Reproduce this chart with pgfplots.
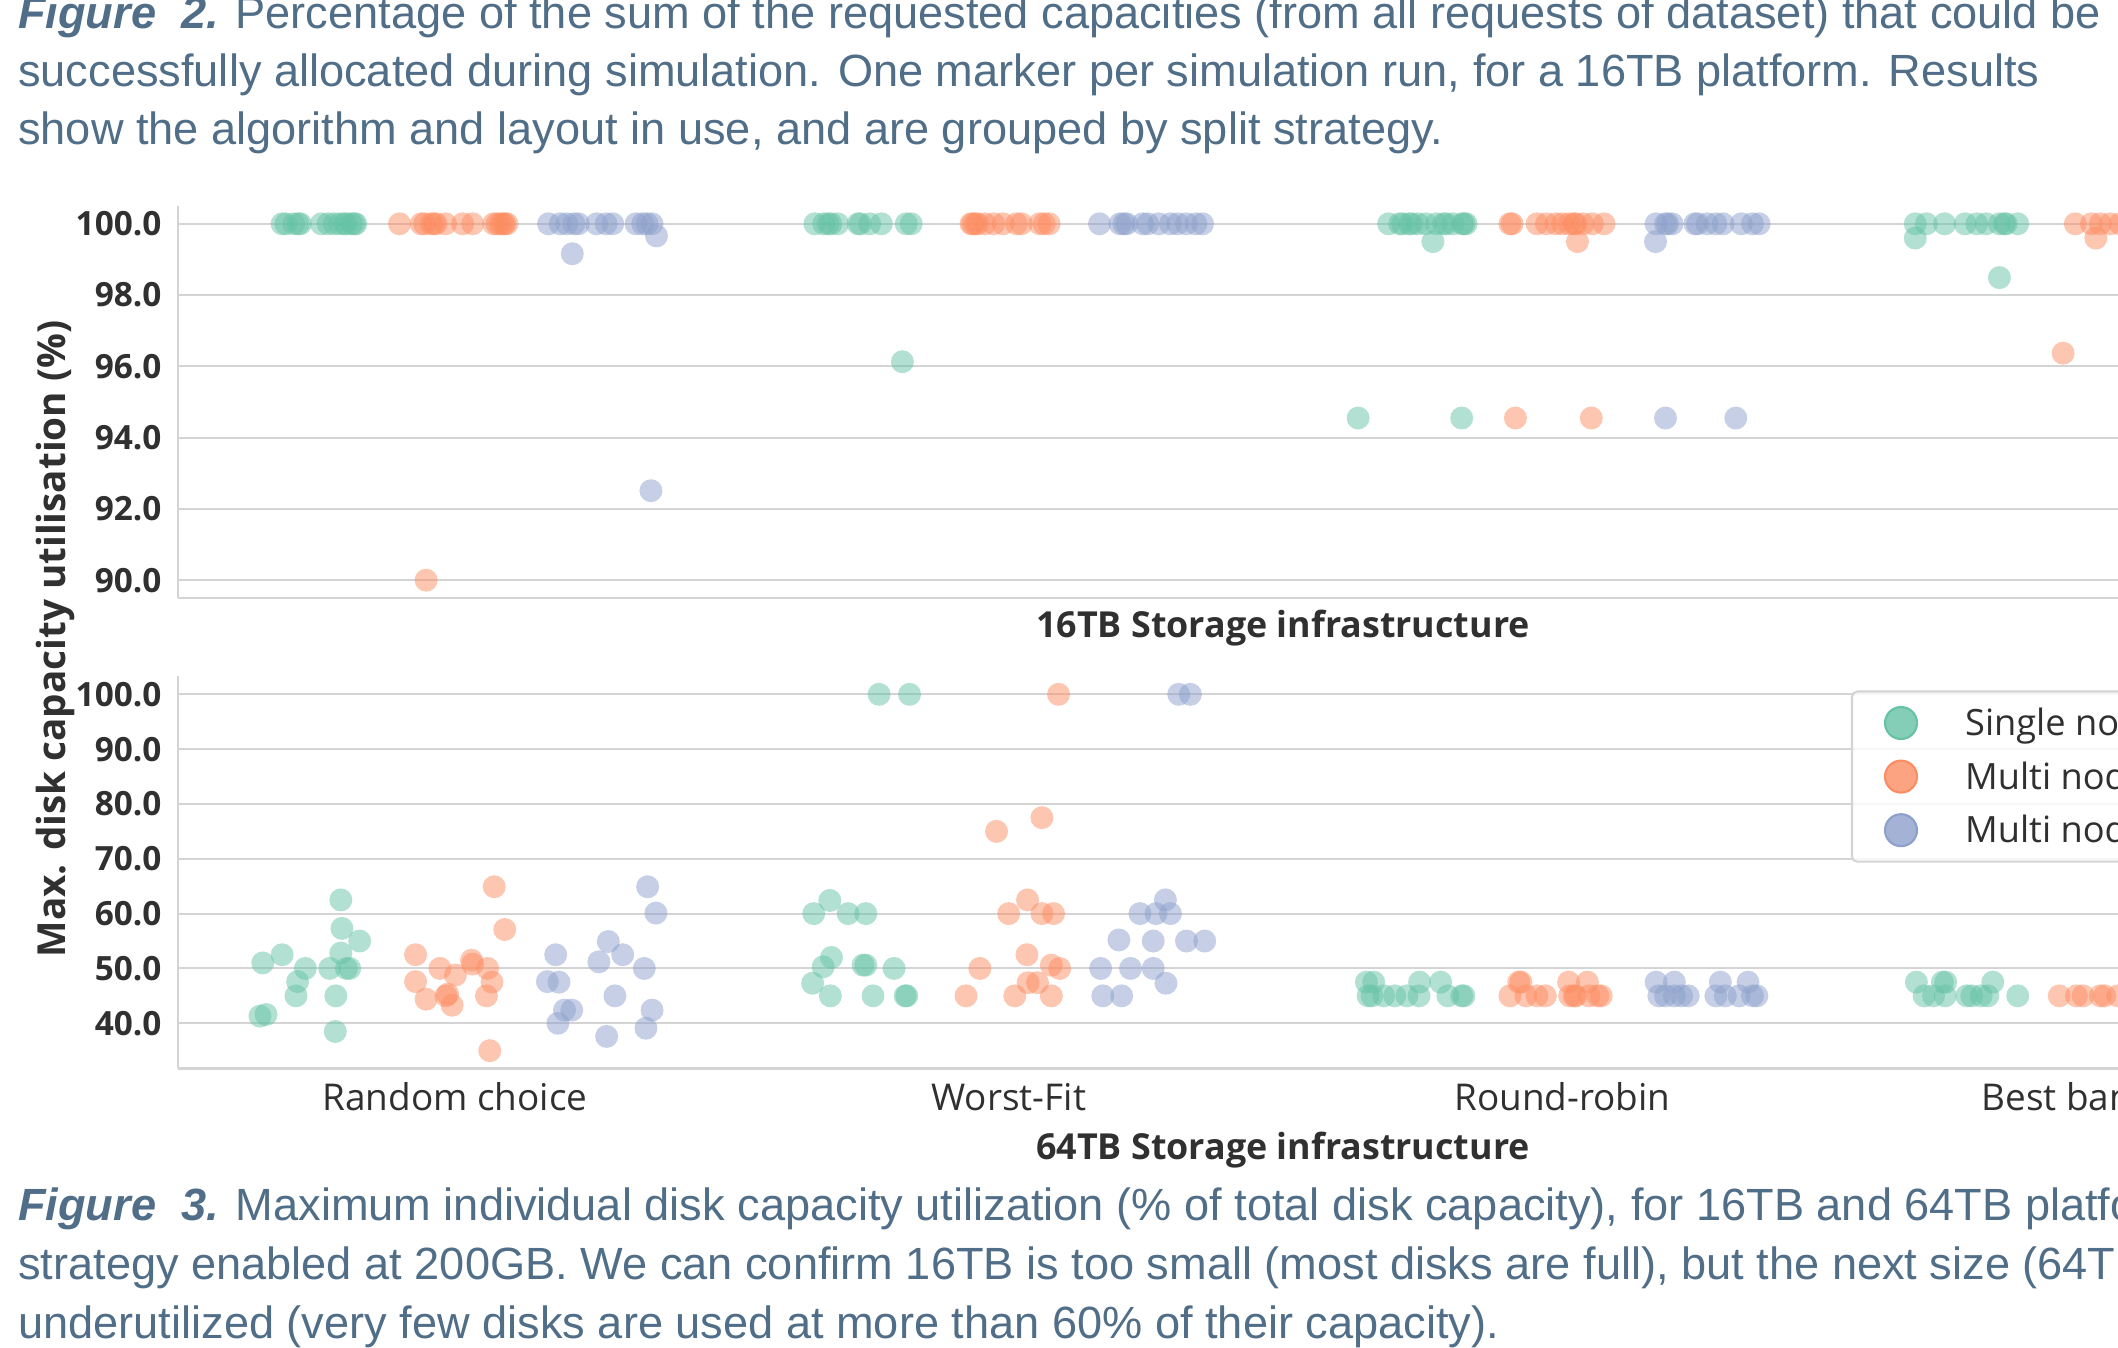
\documentclass[border=0pt]{standalone}
\usepackage{pgfplots}
\pgfplotsset{compat=1.18}
\usepackage{fontspec}
\setmainfont{Open Sans}
\newfontfamily\capfont{Liberation Sans}
\definecolor{cgreen}{HTML}{66C2A5}
\definecolor{corange}{HTML}{FC8D62}
\definecolor{cblue}{HTML}{8DA0CB}
\definecolor{capcol}{RGB}{80,110,135}
\definecolor{txt}{HTML}{303030}
\definecolor{gridc}{HTML}{D4D4D4}

\pgfplotsset{
  stripax/.style={scale only axis, width=22.152cm, height=3.92cm,
    xmin=-0.5, xmax=3.5, anchor=south west,
    axis lines*=left, axis line style={draw=gridc, line width=0.6pt, -},
    ymajorgrids, grid style={draw=gridc, line width=0.6pt},
    major tick length=0pt, xtick={0,1,2,3},
    yticklabel style={font=\fontsize{9.5}{11}\selectfont\bfseries, text=txt, anchor=east, inner sep=0pt, xshift=-4.5pt},
  },
  gs/.style={color=cgreen, only marks, mark=*, mark size=3.27pt, mark options={draw opacity=0, line width=0pt, fill=cgreen, fill opacity=0.5}},
  os/.style={color=corange, only marks, mark=*, mark size=3.27pt, mark options={draw opacity=0, line width=0pt, fill=corange, fill opacity=0.5}},
  bs/.style={color=cblue, only marks, mark=*, mark size=3.27pt, mark options={draw opacity=0, line width=0pt, fill=cblue, fill opacity=0.5}},
}

\begin{document}
\begin{tikzpicture}
\useasboundingbox (0,0) rectangle (21.18cm,13.48cm);
\clip (0,0) rectangle (21.18cm,13.48cm);

% ---------------- captions ----------------
\begin{scope}[every node/.style={anchor=base west, inner sep=0pt, text=capcol, font=\capfont\fontsize{12.85}{15}\selectfont}]
\node at (0.175cm,13.195cm) {\textbf{\textit{Figure\ \ 2.}} Percentage of the sum of the requested capacities (from all requests of dataset) that could be};
\node at (0.175cm,12.612cm) {successfully allocated during simulation. One marker per simulation run, for a 16TB platform. Results};
\node at (0.175cm,12.03cm) {show the algorithm and layout in use, and are grouped by split strategy.};
\node at (0.175cm,1.275cm) {\textbf{\textit{Figure\ \ 3.}} Maximum individual disk capacity utilization (\% of total disk capacity), for 16TB and 64TB platforms};
\node at (0.175cm,0.685cm) {strategy enabled at 200GB. We can confirm 16TB is too small (most disks are full), but the next size (64TB) is};
\node at (0.175cm,0.095cm) {underutilized (very few disks are used at more than 60\% of their capacity).};
\end{scope}

% ---------------- top panel: 16TB ----------------
\begin{axis}[stripax, at={(1.78cm,7.50cm)},
  ymin=89.5, ymax=100.5, ytick={90,92,...,100},
  yticklabels={90.0,92.0,94.0,96.0,98.0,100.0}, xticklabels={}]
\addplot[gs] table {
-0.312 100
-0.305 100
-0.291 100
-0.283 100
-0.279 100
-0.241 100
-0.229 100
-0.218 100
-0.208 100
-0.200 100
-0.196 100
-0.187 100
-0.182 100
-0.179 100
0.650 100
0.666 100
0.674 100
0.679 100
0.691 100
0.728 100
0.732 100
0.749 100
0.770 100
0.815 100
0.824 100
0.808 96.13
1.686 100
1.706 100
1.711 100
1.723 100
1.728 100
1.739 100
1.753 100
1.772 100
1.785 100
1.790 100
1.802 100
1.819 100
1.822 100
1.826 100
1.766 99.5
1.631 94.55
1.818 94.55
2.637 100
2.657 100
2.690 100
2.727 100
2.748 100
2.765 100
2.789 100
2.798 100
2.801 100
2.822 100
2.637 99.6
2.789 98.49
};
\addplot[os] table {
-0.100 100
-0.061 100
-0.055 100
-0.043 100
-0.038 100
-0.034 100
-0.017 100
0.014 100
0.032 100
0.070 100
0.076 100
0.082 100
0.087 100
0.090 100
0.094 100
-0.052 90.0
0.932 100
0.935 100
0.940 100
0.944 100
0.957 100
0.973 100
0.990 100
1.014 100
1.023 100
1.056 100
1.064 100
1.073 100
1.905 100
1.909 100
1.954 100
1.971 100
1.988 100
2.000 100
2.012 100
2.021 100
2.024 100
2.037 100
2.054 100
2.075 100
2.027 99.5
1.915 94.55
2.052 94.55
2.926 100
2.955 100
2.971 100
2.989 100
3.007 100
3.043 100
2.963 99.6
2.904 96.37
};
\addplot[bs] table {
0.169 100
0.190 100
0.202 100
0.215 100
0.223 100
0.256 100
0.273 100
0.285 100
0.327 100
0.339 100
0.347 100
0.356 100
0.212 99.16
0.364 99.66
0.354 92.51
1.164 100
1.201 100
1.208 100
1.213 100
1.242 100
1.251 100
1.271 100
1.292 100
1.305 100
1.321 100
1.338 100
1.350 100
2.169 100
2.186 100
2.190 100
2.198 100
2.239 100
2.244 100
2.261 100
2.277 100
2.290 100
2.323 100
2.343 100
2.355 100
2.168 99.5
2.186 94.55
2.313 94.55
3.180 100
3.220 100
3.260 100
3.300 100
};
\end{axis}

% ---------------- bottom panel: 64TB ----------------
\begin{axis}[stripax, at={(1.78cm,2.795cm)},
  ymin=31.75, ymax=103.25, ytick={40,50,...,100},
  yticklabels={40.0,50.0,60.0,70.0,80.0,90.0,100.0},
  xticklabels={Random choice,Worst-Fit,Round-robin,Best bandwidth},
  xticklabel style={font=\fontsize{10.5}{12}\selectfont, text=txt, anchor=base, inner sep=0pt, yshift=-12pt},
  legend style={at={(0.7552,0.9643)}, anchor=north west,
    draw=gridc, line width=0.6pt, rounded corners=1.5pt,
    fill=white, fill opacity=0.8, draw opacity=1, text opacity=1,
    inner xsep=9.1pt, inner ysep=4.1pt, row sep=5.55pt, column sep=13.4pt,
    nodes={inner sep=0pt, text height=7.2pt, text depth=0pt},
    font=\fontsize{10.3}{12}\selectfont, text=txt},
  legend cell align=left]
\addplot[gs, forget plot] table {
-0.347 51.0
-0.312 52.5
-0.270 50.0
-0.284 47.6
-0.287 45.0
-0.352 41.3
-0.341 41.6
-0.206 62.5
-0.204 57.3
-0.172 55.0
-0.206 52.8
-0.226 50.0
-0.196 50.0
-0.190 50.0
-0.215 45.0
-0.216 38.5
0.766 100
0.821 100
0.648 60.0
0.677 62.4
0.710 60.0
0.742 60.0
0.680 52.0
0.665 50.3
0.646 47.3
0.678 45.0
0.737 50.6
0.742 50.6
0.793 50.0
0.755 45.0
0.813 45.0
0.816 45.0
1.646 47.5
1.659 47.5
1.649 45.0
1.656 45.0
1.677 45.0
1.697 45.0
1.719 45.0
1.742 47.5
1.741 45.0
1.780 47.5
1.793 45.0
1.818 45.0
1.822 45.0
2.639 47.5
2.686 47.5
2.692 47.5
2.777 47.5
2.653 45.0
2.670 45.0
2.691 45.0
2.730 45.0
2.739 45.0
2.756 45.0
2.768 45.0
2.822 45.0
};
\addplot[os, forget plot] table {
-0.071 52.5
-0.071 47.6
-0.052 44.4
-0.027 50.0
-0.013 45.3
-0.016 45.0
-0.005 43.3
0.001 48.8
0.030 51.5
0.032 50.8
0.059 50.0
0.067 47.5
0.057 45.0
0.071 64.9
0.090 57.1
0.063 35.0
1.090 100
0.978 75.0
1.060 77.5
1.034 62.5
1.000 60.0
1.060 60.0
1.081 60.0
0.948 50.0
1.033 52.5
1.077 50.6
1.092 50.0
1.035 47.4
1.052 47.4
0.923 45.0
1.011 45.0
1.077 45.0
1.905 45.0
1.921 47.5
1.925 47.5
1.934 45.0
1.954 45.0
1.969 45.0
2.011 47.5
2.013 45.0
2.021 45.0
2.024 45.0
2.045 47.5
2.048 45.0
2.064 45.0
2.070 45.0
2.897 45.0
2.928 45.0
2.940 45.0
2.971 45.0
2.979 45.0
3.003 45.0
3.025 45.0
};
\addplot[bs, forget plot] table {
0.182 52.5
0.167 47.6
0.188 47.5
0.198 42.4
0.211 42.4
0.186 40.0
0.260 51.2
0.277 54.9
0.303 52.5
0.289 45.0
0.274 37.6
0.342 50.0
0.348 64.9
0.363 60.1
0.356 42.4
0.345 39.1
1.307 100
1.328 100
1.283 62.5
1.237 60.0
1.266 60.0
1.292 60.0
1.199 55.2
1.261 55.0
1.321 55.0
1.354 55.0
1.166 50.0
1.220 50.0
1.261 50.0
1.284 47.3
1.170 45.0
1.204 45.0
2.169 47.5
2.202 47.5
2.174 45.0
2.186 45.0
2.202 45.0
2.215 45.0
2.227 45.0
2.285 47.5
2.335 47.5
2.277 45.0
2.294 45.0
2.319 45.0
2.343 45.0
2.351 45.0
3.200 45.0
3.240 45.0
3.280 45.0
};
\addlegendimage{legend image code/.code={\fill[cgreen] (0pt,0pt) circle (4.55pt);}}
\addlegendentry{Single node}
\addlegendimage{legend image code/.code={\fill[corange] (0pt,0pt) circle (4.55pt);}}
\addlegendentry{Multi node (first split)}
\addlegendimage{legend image code/.code={\fill[cblue] (0pt,0pt) circle (4.55pt);}}
\addlegendentry{Multi node (all split)}
\end{axis}

% ---------------- shared labels ----------------
\node[rotate=90, anchor=center, inner sep=0pt, text=txt, font=\fontsize{11}{13}\selectfont\bfseries] at (0.55cm,7.09cm) {Max. disk capacity utilisation (\%)};
\node[anchor=base, inner sep=0pt, text=txt, font=\fontsize{10.2}{12}\selectfont\bfseries] at (12.83cm,7.10cm) {16TB Storage infrastructure};
\node[anchor=base, inner sep=0pt, text=txt, font=\fontsize{10.2}{12}\selectfont\bfseries] at (12.83cm,1.88cm) {64TB Storage infrastructure};
\end{tikzpicture}
\end{document}
